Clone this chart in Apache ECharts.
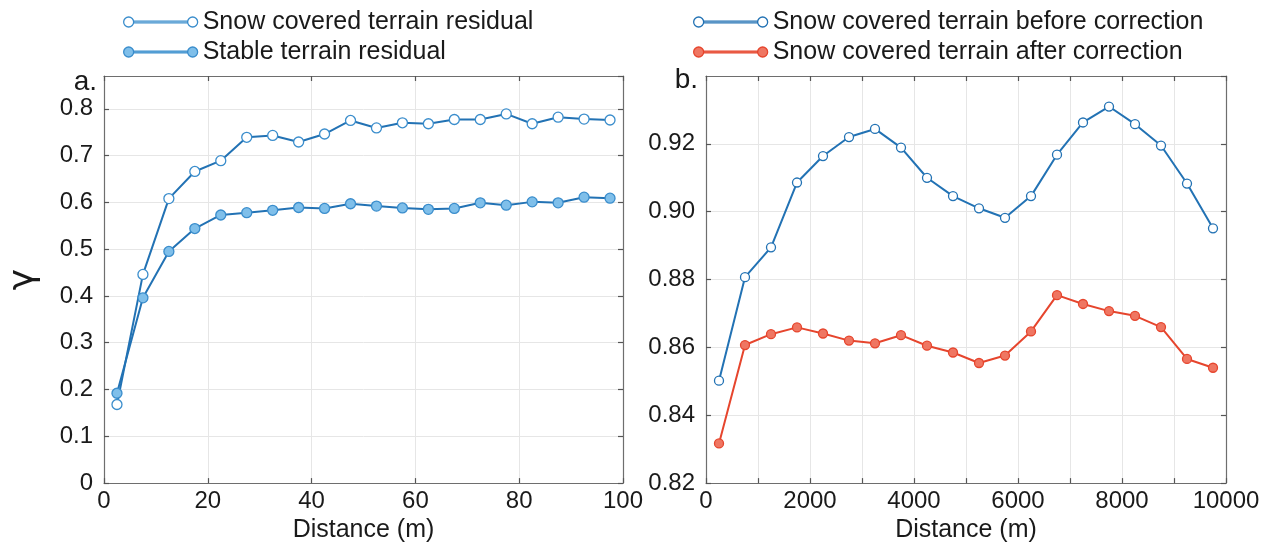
<!DOCTYPE html>
<html>
<head>
<meta charset="utf-8">
<script src="https://cdn.jsdelivr.net/npm/echarts@6/dist/echarts.min.js"></script>
<style>
html,body{margin:0;padding:0;background:#fff;}
#chart{width:1267px;height:548px;}
</style>
</head>
<body>
<div id="chart"></div>
<script>
// ---- data ----
const distanceA = [2.5, 7.5, 12.5, 17.5, 22.5, 27.5, 32.5, 37.5, 42.5, 47.5, 52.5, 57.5, 62.5, 67.5, 72.5, 77.5, 82.5, 87.5, 92.5, 97.5];
const snowResidual = [0.168, 0.446, 0.608, 0.666, 0.689, 0.739, 0.743, 0.729, 0.746, 0.775, 0.759, 0.770, 0.768, 0.777, 0.777, 0.789, 0.768, 0.782, 0.778, 0.776];
const stableResidual = [0.192, 0.396, 0.495, 0.544, 0.573, 0.578, 0.583, 0.589, 0.587, 0.597, 0.592, 0.588, 0.585, 0.587, 0.599, 0.594, 0.601, 0.599, 0.611, 0.609];

const distanceB = [250, 750, 1250, 1750, 2250, 2750, 3250, 3750, 4250, 4750, 5250, 5750, 6250, 6750, 7250, 7750, 8250, 8750, 9250, 9750];
const beforeCorrection = [0.8502, 0.8807, 0.8895, 0.9086, 0.9164, 0.9220, 0.9244, 0.9189, 0.9100, 0.9046, 0.9010, 0.8982, 0.9046, 0.9168, 0.9263, 0.9310, 0.9258, 0.9195, 0.9083, 0.8951];
const afterCorrection = [0.8317, 0.8607, 0.8639, 0.8659, 0.8641, 0.8620, 0.8612, 0.8636, 0.8605, 0.8585, 0.8554, 0.8576, 0.8647, 0.8754, 0.8728, 0.8707, 0.8693, 0.8660, 0.8566, 0.8540];

const seriesNames = ['Snow covered terrain residual', 'Stable terrain residual', 'Snow covered terrain before correction', 'Snow covered terrain after correction'];

// ---- style ----
const FONT = '"Liberation Sans", Arial, Helvetica, sans-serif';
const BOX = '#6e6e6e';
const GRIDC = '#e6e6e6';
const BLUE = '#2272b4';
const RED = '#e6452d';
const legendIcon = 'path://M0,5a5,5 0 1,0 10,0a5,5 0 1,0 -10,0Z M10,4.2L64,4.2L64,5.8L10,5.8Z M64,5a5,5 0 1,0 10,0a5,5 0 1,0 -10,0Z';

function pairs(xs, ys){ return xs.map((x,i)=>[x, ys[i]]); }

function xAx(gi, min, max, interval, pos, showLabel, fmt, name){
  return {
    type:'value', gridIndex:gi, min:min, max:max, interval:interval, position:pos,
    axisLine:{show:true, onZero:false, lineStyle:{color:BOX, width:1.2}},
    axisTick:{show:true, inside:true, length:5, lineStyle:{color:'#555', width:1.2}},
    splitLine:{show: pos==='bottom', lineStyle:{color:GRIDC, width:1}},
    axisLabel:{show:showLabel, color:'#1a1a1a', fontFamily:FONT, fontSize:24, margin:6, formatter:fmt,
      showMinLabel:true, showMaxLabel:true},
    name: name || '', nameLocation:'middle', nameGap:33,
    nameTextStyle:{color:'#1a1a1a', fontFamily:FONT, fontSize:25}
  };
}
function yAx(gi, min, max, interval, pos, showLabel, fmt, name, nameGap){
  return {
    type:'value', gridIndex:gi, min:min, max:max, interval:interval, position:pos,
    axisLine:{show:true, onZero:false, lineStyle:{color:BOX, width:1.2}},
    axisTick:{show:true, inside:true, length:5, lineStyle:{color:'#555', width:1.2}},
    splitLine:{show: pos==='left', lineStyle:{color:GRIDC, width:1}},
    axisLabel:{show:showLabel, color:'#1a1a1a', fontFamily:FONT, fontSize:24, margin:11, formatter:fmt,
      showMaxLabel:false},
    name: name || '', nameLocation:'middle', nameGap: nameGap || 0, nameRotate:90,
    nameTextStyle:{color:'#1a1a1a', fontFamily:'"DejaVu Sans", "Liberation Sans", sans-serif', fontSize:36}
  };
}

const option = {
  backgroundColor:'#fff',
  animation:false,
  textStyle:{fontFamily:FONT},
  grid:[
    {left:104, right:644, top:76, bottom:61, containLabel:false},
    {left:706, right:41, top:76, bottom:61, containLabel:false}
  ],
  legend:[
    {left:118, top:2, orient:'vertical', itemWidth:74, itemHeight:10, itemGap:0, icon:legendIcon,
     textStyle:{fontFamily:FONT, fontSize:25, color:'#1a1a1a', lineHeight:30, padding:[0,0,0,0]},
     data:[
       {name:seriesNames[0], itemStyle:{color:'#ffffff', borderColor:'#3a8dcc', borderWidth:1.3}},
       {name:seriesNames[1], itemStyle:{color:'#7fbfea', borderColor:'#3a8dcc', borderWidth:1.3}}
     ]},
    {left:688, top:2, orient:'vertical', itemWidth:74, itemHeight:10, itemGap:0, icon:legendIcon,
     textStyle:{fontFamily:FONT, fontSize:25, color:'#1a1a1a', lineHeight:30, padding:[0,0,0,0]},
     data:[
       {name:seriesNames[2], itemStyle:{color:'#ffffff', borderColor:'#2272b4', borderWidth:1.3}},
       {name:seriesNames[3], itemStyle:{color:'#ef7662', borderColor:'#e6452d', borderWidth:1.3}}
     ]}
  ],
  xAxis:[
    xAx(0, 0, 100, 20, 'bottom', true, v=>String(v), 'Distance (m)'),
    xAx(0, 0, 100, 20, 'top', false, v=>String(v)),
    xAx(1, 0, 10000, 1000, 'bottom', true, v=>(v % 2000 === 0 ? String(v) : ''), 'Distance (m)'),
    xAx(1, 0, 10000, 1000, 'top', false, v=>String(v))
  ],
  yAxis:[
    yAx(0, 0, 0.87, 0.1, 'left', true, v=> v===0 ? '0' : v.toFixed(1), '\u03B3', 62),
    yAx(0, 0, 0.87, 0.1, 'right', false, v=>String(v)),
    yAx(1, 0.82, 0.94, 0.02, 'left', true, v=> v.toFixed(2)),
    yAx(1, 0.82, 0.94, 0.02, 'right', false, v=>String(v))
  ],
  series:[
    {name:seriesNames[0], type:'line', xAxisIndex:0, yAxisIndex:0, data:pairs(distanceA, snowResidual),
     symbol:'circle', symbolSize:10, showAllSymbol:true,
     lineStyle:{color:BLUE, width:2}, itemStyle:{color:'#ffffff', borderColor:'#3a8dcc', borderWidth:1.3}, z:3},
    {name:seriesNames[1], type:'line', xAxisIndex:0, yAxisIndex:0, data:pairs(distanceA, stableResidual),
     symbol:'circle', symbolSize:10, showAllSymbol:true,
     lineStyle:{color:BLUE, width:2}, itemStyle:{color:'#7fbfea', borderColor:'#3a8dcc', borderWidth:1.3}, z:4},
    {name:seriesNames[2], type:'line', xAxisIndex:2, yAxisIndex:2, data:pairs(distanceB, beforeCorrection),
     symbol:'circle', symbolSize:9, showAllSymbol:true,
     lineStyle:{color:BLUE, width:2}, itemStyle:{color:'#ffffff', borderColor:'#2272b4', borderWidth:1.3}},
    {name:seriesNames[3], type:'line', xAxisIndex:2, yAxisIndex:2, data:pairs(distanceB, afterCorrection),
     symbol:'circle', symbolSize:9, showAllSymbol:true,
     lineStyle:{color:RED, width:2}, itemStyle:{color:'#ef7662', borderColor:'#e6452d', borderWidth:1.3}}
  ],
  graphic:[
    {type:'text', style:{text:'a.', x:97, y:82, textAlign:'right', textVerticalAlign:'middle', fontFamily:FONT, fontSize:28, fill:'#1a1a1a'}},
    {type:'text', style:{text:'b.', x:698, y:80, textAlign:'right', textVerticalAlign:'middle', fontFamily:FONT, fontSize:28, fill:'#1a1a1a'}}
  ]
};

const chart = echarts.init(document.getElementById('chart'), null, {renderer:'canvas'});
chart.setOption(option);
</script>
</body>
</html>
